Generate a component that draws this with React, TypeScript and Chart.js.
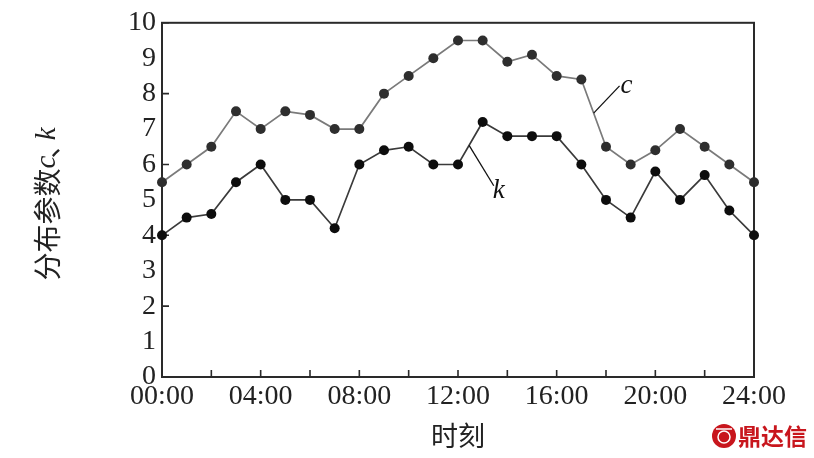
import React, { useEffect, useRef } from "react";
import { Chart, registerables } from "chart.js";

Chart.register(...registerables);

const HOURS = [0, 1, 2, 3, 4, 5, 6, 7, 8, 9, 10, 11, 12, 13, 14, 15, 16, 17, 18, 19, 20, 21, 22, 23, 24];
const C_VALUES = [5.5, 6.0, 6.5, 7.5, 7.0, 7.5, 7.4, 7.0, 7.0, 8.0, 8.5, 9.0, 9.5, 9.5, 8.9, 9.1, 8.5, 8.4, 6.5, 6.0, 6.4, 7.0, 6.5, 6.0, 5.5];
const K_VALUES = [4.0, 4.5, 4.6, 5.5, 6.0, 5.0, 5.0, 4.2, 6.0, 6.4, 6.5, 6.0, 6.0, 7.2, 6.8, 6.8, 6.8, 6.0, 5.0, 4.5, 5.8, 5.0, 5.7, 4.7, 4.0];
const X_TICK_MARKS = [0, 2, 4, 6, 8, 10, 12, 14, 16, 18, 20, 22, 24];
const Y_TICK_MARKS = [0, 2, 4, 6, 8, 10];
const X_LABEL_STEP = 4;
const Y_LABEL_STEP = 1;
const Y_MIN = 0;
const Y_MAX = 10;
const X_TITLE = "时刻";
const Y_TITLE_PARTS = ["分布参数", "c", "、", "k"];
const C_LEADER = [[17.5, 7.45], [18.55, 8.22]];
const K_LEADER = [[12.45, 6.54], [13.45, 5.4]];
const C_NAME = "c";
const K_NAME = "k";
const WATERMARK = "鼎达信";

const fmtHour = (v: number) => `${String(v).padStart(2, "0")}:00`;

const decorPlugin = {
  id: "decor",
  beforeDatasetsDraw(chart: any) {
    const { ctx, chartArea: a, scales } = chart;
    const xs = scales.x;
    const ys = scales.y;
    ctx.save();
    ctx.strokeStyle = "#2a2a2a";
    ctx.lineWidth = 2;
    ctx.strokeRect(a.left, a.top, a.right - a.left, a.bottom - a.top);
    ctx.lineWidth = 1.6;
    ctx.beginPath();
    for (const t of X_TICK_MARKS) {
      const px = xs.getPixelForValue(t);
      ctx.moveTo(px, a.bottom);
      ctx.lineTo(px, a.bottom - 7);
    }
    for (const t of Y_TICK_MARKS) {
      const py = ys.getPixelForValue(t);
      ctx.moveTo(a.left, py);
      ctx.lineTo(a.left + 7, py);
    }
    ctx.stroke();
    ctx.restore();
  },
  afterDraw(chart: any) {
    const { ctx, chartArea: a, scales } = chart;
    const xs = scales.x;
    const ys = scales.y;
    ctx.save();
    ctx.strokeStyle = "#111";
    ctx.lineWidth = 1.3;
    const drawLeader = (pts: number[][], name: string, dx: number, dy: number) => {
      const x0 = xs.getPixelForValue(pts[0][0]);
      const y0 = ys.getPixelForValue(pts[0][1]);
      const x1 = xs.getPixelForValue(pts[1][0]);
      const y1 = ys.getPixelForValue(pts[1][1]);
      ctx.beginPath();
      ctx.moveTo(x0, y0);
      ctx.lineTo(x1, y1);
      ctx.stroke();
      ctx.fillStyle = "#111";
      ctx.font = 'italic 27px "Liberation Serif"';
      ctx.textAlign = "left";
      ctx.textBaseline = "middle";
      ctx.fillText(name, x1 + dx, y1 + dy);
    };
    drawLeader(C_LEADER, C_NAME, 1, 0);
    drawLeader(K_LEADER, K_NAME, -1, 5);

    const cjk = '28px "Noto Sans CJK SC"';
    const ital = 'italic 29px "Liberation Serif"';
    const fonts = [cjk, ital, cjk, ital];
    const advance = [1, 1, 0.55, 1];
    let total = 0;
    const widths: number[] = [];
    Y_TITLE_PARTS.forEach((p, i) => {
      ctx.font = fonts[i];
      const w = ctx.measureText(p).width * advance[i];
      widths.push(w);
      total += w;
    });
    const cy = (a.top + a.bottom) / 2 + 4;
    ctx.translate(47, cy);
    ctx.rotate(-Math.PI / 2);
    ctx.fillStyle = "#222";
    ctx.textBaseline = "middle";
    ctx.textAlign = "left";
    let x = -total / 2;
    Y_TITLE_PARTS.forEach((p, i) => {
      ctx.font = fonts[i];
      ctx.fillText(p, i === 2 ? x - 3 : x, 0);
      x += widths[i];
    });
    ctx.restore();

    ctx.save();
    const red = "#c8161d";
    ctx.fillStyle = red;
    ctx.beginPath();
    ctx.arc(724, 436, 12, 0, Math.PI * 2);
    ctx.fill();
    ctx.strokeStyle = "#fff";
    ctx.lineWidth = 1.5;
    ctx.beginPath();
    ctx.arc(724, 437, 6, 0, Math.PI * 2);
    ctx.stroke();
    ctx.beginPath();
    ctx.moveTo(716, 429);
    ctx.lineTo(732, 429);
    ctx.stroke();
    ctx.fillStyle = red;
    ctx.font = 'bold 23px "Noto Sans CJK SC"';
    ctx.textAlign = "left";
    ctx.textBaseline = "middle";
    ctx.fillText(WATERMARK, 738, 436);
    ctx.restore();
  },
};

export default function App() {
  const ref = useRef<HTMLCanvasElement | null>(null);
  useEffect(() => {
    if (!ref.current) return;
    const chart = new Chart(ref.current, {
      type: "line",
      data: {
        datasets: [
          {
            label: C_NAME,
            data: HOURS.map((h, i) => ({ x: h, y: C_VALUES[i] })),
            borderColor: "#7a7a7a",
            borderWidth: 1.7,
            pointBackgroundColor: "#2e2e2e",
            pointBorderColor: "#2e2e2e",
            pointRadius: 5,
            pointBorderWidth: 0,
            tension: 0,
            clip: false as any,
          },
          {
            label: K_NAME,
            data: HOURS.map((h, i) => ({ x: h, y: K_VALUES[i] })),
            borderColor: "#3a3a3a",
            borderWidth: 1.7,
            pointBackgroundColor: "#0d0d0d",
            pointBorderColor: "#0d0d0d",
            pointRadius: 5,
            pointBorderWidth: 0,
            tension: 0,
            clip: false as any,
          },
        ],
      },
      options: {
        animation: false,
        responsive: false,
        devicePixelRatio: 1,
        layout: { padding: { left: 0, top: 18, right: 60, bottom: 0 } },
        plugins: { legend: { display: false }, tooltip: { enabled: false } },
        scales: {
          x: {
            type: "linear",
            min: HOURS[0],
            max: HOURS[HOURS.length - 1],
            border: { display: false },
            grid: { display: false, drawTicks: false },
            ticks: {
              stepSize: X_LABEL_STEP,
              autoSkip: false,
              padding: 3,
              color: "#222",
              font: { family: "Liberation Serif", size: 28 },
              maxRotation: 0,
              callback: (v: any) => fmtHour(Number(v)),
            },
            title: {
              display: true,
              text: X_TITLE,
              color: "#222",
              font: { family: "Noto Sans CJK SC", size: 27 },
              padding: { top: 0, bottom: 6 },
            },
            afterFit: (s: any) => {
              s.height = 81;
            },
          },
          y: {
            min: Y_MIN,
            max: Y_MAX,
            border: { display: false },
            grid: { display: false, drawTicks: false },
            ticks: {
              stepSize: Y_LABEL_STEP,
              autoSkip: false,
              padding: 6,
              color: "#222",
              font: { family: "Liberation Serif", size: 28 },
            },
            afterFit: (s: any) => {
              s.width = 162;
            },
          },
        },
      },
      plugins: [decorPlugin],
    });
    return () => chart.destroy();
  }, []);
  return (
    <div style={{ position: "fixed", left: 0, top: 0, width: 814, height: 458, background: "#fff" }}>
      <canvas ref={ref} width={814} height={458} style={{ display: "block" }} />
    </div>
  );
}
